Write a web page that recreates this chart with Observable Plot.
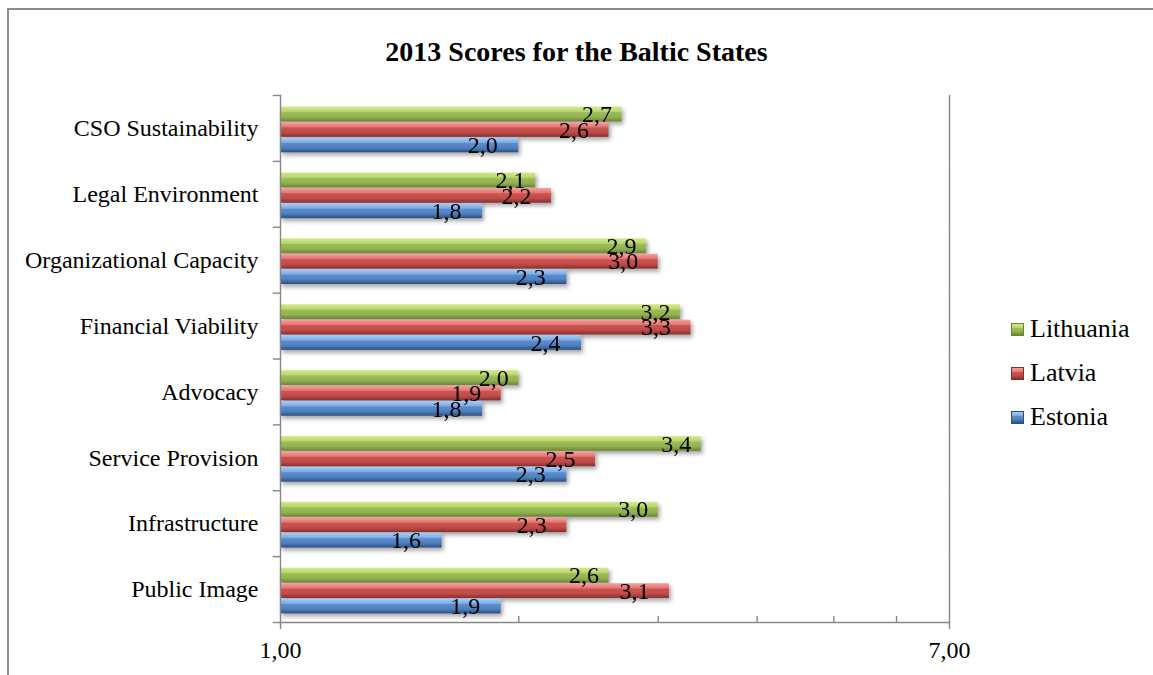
<!DOCTYPE html>
<html><head><meta charset="utf-8">
<script src="https://cdn.jsdelivr.net/npm/d3@7"></script>
<script src="https://cdn.jsdelivr.net/npm/@observablehq/plot@0.6"></script>
<style>
html,body{margin:0;padding:0;background:#fff;overflow:hidden;}
#wrap{position:relative;width:1153px;height:675px;font-family:"Liberation Serif","Times New Roman",serif;color:#000;}
#frame{position:absolute;left:7px;top:8px;width:1200px;height:700px;border:2px solid #8c8c8c;box-sizing:border-box;}
#title{position:absolute;left:0;width:1153px;top:36px;line-height:32px;text-align:center;font-weight:bold;font-size:28px;}
#chart{position:absolute;left:0;top:0;}
#legend{position:absolute;left:1011px;top:307px;font-size:26px;}
.item{display:flex;align-items:center;height:44px;}
.sw{width:13px;height:13px;margin-right:6px;box-sizing:border-box;}
#chart g[aria-label="bar"]{filter:drop-shadow(2px 3px 2px rgba(0,0,0,0.35));}
</style>
</head><body>
<svg width="0" height="0" style="position:absolute">
  <defs>
    <linearGradient id="gLit" x1="0" y1="0" x2="0" y2="1">
      <stop offset="0" stop-color="#d3ea8e"/><stop offset="0.33" stop-color="#b9d66c"/>
      <stop offset="0.4" stop-color="#9dbd5a"/><stop offset="0.7" stop-color="#92b24f"/>
      <stop offset="1" stop-color="#6a8531"/>
    </linearGradient>
    <linearGradient id="gLat" x1="0" y1="0" x2="0" y2="1">
      <stop offset="0" stop-color="#f5a3a0"/><stop offset="0.33" stop-color="#e27572"/>
      <stop offset="0.4" stop-color="#cb5350"/><stop offset="0.7" stop-color="#c04c49"/>
      <stop offset="1" stop-color="#882e2c"/>
    </linearGradient>
    <linearGradient id="gEst" x1="0" y1="0" x2="0" y2="1">
      <stop offset="0" stop-color="#a9cdf4"/><stop offset="0.33" stop-color="#7eabe4"/>
      <stop offset="0.4" stop-color="#5b8dcd"/><stop offset="0.7" stop-color="#4f80bd"/>
      <stop offset="1" stop-color="#2b4f82"/>
    </linearGradient>
  </defs>
</svg>
<div id="wrap">
  <div id="frame"></div>
  <div id="title"></div>
  <div id="chart"></div>
  <div id="legend"></div>
</div>
<script>
const titleText = "2013 Scores for the Baltic States";
const categories = ["CSO Sustainability","Legal Environment","Organizational Capacity","Financial Viability","Advocacy","Service Provision","Infrastructure","Public Image"];
const series = ["Lithuania","Latvia","Estonia"];
const lithuania = [2.7,2.1,2.9,3.2,2.0,3.4,3.0,2.6];
const latvia    = [2.6,2.2,3.0,3.3,1.9,2.5,2.3,3.1];
const estonia   = [2.0,1.8,2.3,2.4,1.8,2.3,1.6,1.9];
const xMajorTicks = [1,7];
const xMajorLabels = ["1,00","7,00"];
const xMinorTicks = [2,3,4,5,6];

const fills = ["url(#gLit)","url(#gLat)","url(#gEst)"];
const swatchCss = [
  "linear-gradient(#d3ea8e 0%,#b9d66c 33%,#9dbd5a 40%,#92b24f 70%,#6a8531 100%)",
  "linear-gradient(#f5a3a0 0%,#e27572 33%,#cb5350 40%,#c04c49 70%,#882e2c 100%)",
  "linear-gradient(#a9cdf4 0%,#7eabe4 33%,#5b8dcd 40%,#4f80bd 70%,#2b4f82 100%)"
];
const swatchBorder = ["#6a8531","#882e2c","#2b4f82"];
const labelDx = {Lithuania: -10, Latvia: -20, Estonia: -21};

const valuesBySeries = {Lithuania: lithuania, Latvia: latvia, Estonia: estonia};
const data = [];
categories.forEach((c, i) => series.forEach(s => data.push({category: c, series: s, value: valuesBySeries[s][i]})));
const fmt = v => d3.format(".1f")(v).replace(".", ",");

document.getElementById("title").textContent = titleText;

const W = 1153, H = 675, mL = 280, mR = 204, mT = 95, mB = 53;
const plotW = W - mL - mR;
const axisColor = "#868686";

const marks = [
  Plot.barX(data, {x1: 1, x2: "value", y: "series", fy: "category", fill: "series"}),
  ...series.map(s => Plot.text(data.filter(d => d.series === s), {
    x: "value", y: "series", fy: "category", text: d => fmt(d.value),
    textAnchor: "end", dx: labelDx[s], dy: 0, fill: "#000"
  })),
  Plot.ruleX(xMajorTicks, {stroke: axisColor, strokeWidth: 1.4}),
  Plot.frame({anchor: "top", insetLeft: -7, insetRight: plotW, stroke: axisColor, strokeWidth: 1.4}),
  Plot.frame({anchor: "bottom", facetAnchor: "bottom", insetLeft: -7, insetRight: plotW, stroke: axisColor, strokeWidth: 1.4}),
  Plot.frame({anchor: "bottom", facetAnchor: "bottom", stroke: axisColor, strokeWidth: 1.4}),
  Plot.axisX(xMajorTicks, {anchor: "bottom", tickSize: 7, tickPadding: 11, stroke: axisColor, strokeWidth: 1.4,
    tickFormat: d => xMajorLabels[xMajorTicks.indexOf(d)], fill: "#000", fontSize: 24, label: null}),
  Plot.axisX(xMinorTicks, {anchor: "bottom", tickSize: -6, stroke: axisColor, strokeWidth: 1.4, tickFormat: () => "", label: null}),
  Plot.axisFy({anchor: "left", tickSize: 0, tickPadding: 22, fontSize: 24, label: null, fill: "#000"})
];

const chart = Plot.plot({
  width: W, height: H,
  marginLeft: mL, marginRight: mR, marginTop: mT, marginBottom: mB,
  style: {fontFamily: "'Liberation Serif','Times New Roman',serif", fontSize: "24px", color: "#000", background: "transparent", overflow: "visible"},
  x: {type: "log", domain: [1, 7], axis: null},
  y: {domain: series, axis: null, padding: 0.04, insetTop: 11, insetBottom: 8, round: false},
  fy: {domain: categories, padding: 0, axis: null, round: false},
  color: {domain: series, range: fills},
  marks
});
document.getElementById("chart").appendChild(chart);

const legend = document.getElementById("legend");
series.forEach((s, i) => {
  const it = document.createElement("div"); it.className = "item";
  const sw = document.createElement("div"); sw.className = "sw";
  sw.style.background = swatchCss[i]; sw.style.border = "1px solid " + swatchBorder[i];
  const tx = document.createElement("span"); tx.textContent = s;
  it.appendChild(sw); it.appendChild(tx); legend.appendChild(it);
});
</script>
</body></html>
